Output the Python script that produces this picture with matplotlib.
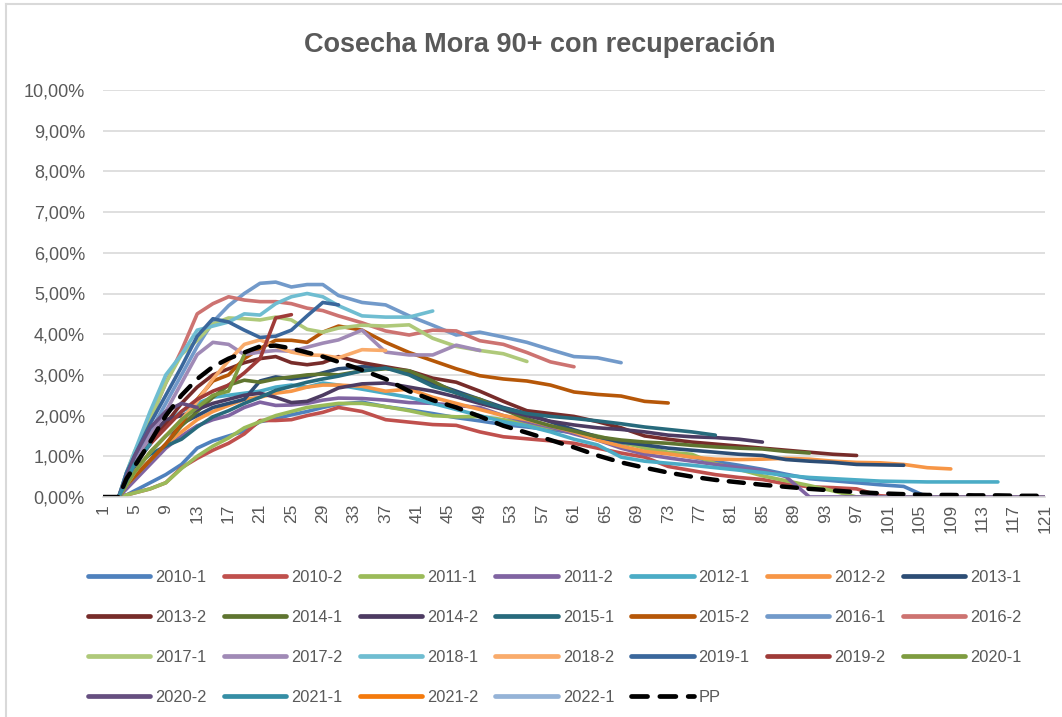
import matplotlib
matplotlib.use("Agg")
import matplotlib.pyplot as plt
from matplotlib.lines import Line2D
from matplotlib.ticker import FuncFormatter

plt.rcParams["font.family"] = ["Liberation Sans", "DejaVu Sans"]

MONTHS = [1, 3, 4, 5, 7, 9, 11, 13, 15, 17, 19, 21, 23, 25, 27, 29,
          31, 34, 37, 40, 43, 46, 49, 52, 55, 58, 61, 64, 67, 70, 73, 76,
          79, 82, 85, 88, 91, 94, 97, 100, 103, 106, 109, 112, 115, 118, 121]

# % of portfolio in 90+ delinquency, per cohort
s2010_1 = [0, 0, 0.05, 0.15, 0.35, 0.55, 0.8, 1.2, 1.38, 1.5, 1.62, 1.85, 1.92, 2.02, 2.1, 2.2,
           2.28, 2.33, 2.22, 2.14, 2.05, 1.95, 1.87, 1.78, 1.72, 1.65,
           1.58, 1.45, 1.32, 1.25, 1.08, 0.98, 0.87, 0.78, 0.68, 0.56,
           0.45, 0.4, 0.35, 0.3, 0.26, 0, 0, 0, 0, 0, 0]
s2010_2 = [0, 0, 0.05, 0.1, 0.2, 0.35, 0.72, 0.95, 1.15, 1.32, 1.55, 1.88, 1.88, 1.9, 2.0, 2.08,
           2.2, 2.1, 1.9, 1.84, 1.78, 1.76, 1.6, 1.48, 1.43, 1.38,
           1.32, 1.2, 1.08, 0.98, 0.75, 0.65, 0.55, 0.48, 0.43, 0.32,
           0.25, 0.23, 0.2, 0.03, 0, 0, 0, 0, 0, 0, 0]
s2011_1 = [0, 0, 0.05, 0.1, 0.2, 0.35, 0.7, 1.0, 1.25, 1.45, 1.7, 1.85, 2.0, 2.1, 2.2, 2.25,
           2.3, 2.3, 2.22, 2.12, 2.0, 1.97, 1.98, 1.9, 1.8, 1.7,
           1.6, 1.5, 1.35, 1.2, 1.1, 1.05, 0.82, 0.68, 0.52, 0.4,
           0.28, 0.15, 0, 0, 0, 0, 0, 0, 0, 0, 0]
s2011_2 = [0, 0, 0.2, 0.4, 0.8, 1.2, 1.5, 1.75, 1.9, 2.0, 2.2, 2.33, 2.25, 2.26, 2.3, 2.38,
           2.43, 2.42, 2.38, 2.32, 2.3, 2.25, 2.2, 2.0, 1.85, 1.72,
           1.55, 1.4, 1.2, 1.05, 0.96, 0.88, 0.8, 0.72, 0.66, 0.5,
           0, 0, 0, 0, 0, 0, 0, 0, 0, 0, 0]
s2012_1 = [0, 0, 0.5, 0.9, 1.4, 1.8, 2.1, 2.3, 2.45, 2.5, 2.55, 2.6, 2.7, 2.75, 2.7, 2.8,
           2.75, 2.65, 2.55, 2.45, 2.3, 2.15, 2.0, 1.85, 1.75, 1.6,
           1.42, 1.28, 0.98, 0.88, 0.83, 0.78, 0.72, 0.66, 0.6, 0.53,
           0.48, 0.45, 0.42, 0.39, 0.38, 0.37, 0.37, 0.37, 0.37]
s2012_2 = [0, 0, 0.3, 0.5, 0.9, 1.3, 1.6, 1.9, 2.1, 2.25, 2.4, 2.45, 2.55, 2.6, 2.7, 2.75,
           2.75, 2.72, 2.6, 2.65, 2.45, 2.3, 2.15, 2.0, 1.9, 1.75,
           1.6, 1.4, 1.25, 1.12, 1.06, 0.98, 0.93, 0.92, 0.93, 0.95,
           0.93, 0.88, 0.85, 0.84, 0.8, 0.72, 0.69]
s2013_1 = [0, 0, 0.3, 0.6, 1.1, 1.5, 1.8, 2.0, 2.2, 2.3, 2.4, 2.85, 2.95, 2.9, 2.95, 3.05,
           3.15, 3.2, 3.18, 3.05, 2.8, 2.6, 2.4, 2.2, 2.05, 1.85,
           1.65, 1.48, 1.35, 1.28, 1.2, 1.15, 1.1, 1.05, 1.02, 0.92,
           0.88, 0.85, 0.8, 0.79, 0.78]
s2013_2 = [0, 0, 0.4, 0.8, 1.3, 1.8, 2.3, 2.7, 3.0, 3.15, 3.3, 3.4, 3.45, 3.3, 3.25, 3.3,
           3.45, 3.3, 3.2, 3.1, 2.92, 2.82, 2.6, 2.35, 2.12, 2.05,
           1.98, 1.85, 1.7, 1.5, 1.42, 1.35, 1.3, 1.25, 1.2, 1.15,
           1.1, 1.05, 1.02]
s2014_1 = [0, 0, 0.3, 0.5, 0.9, 1.3, 1.75, 2.1, 2.45, 2.75, 2.87, 2.82, 2.9, 2.95, 3.0, 3.02,
           3.0, 3.1, 3.15, 3.1, 2.85, 2.55, 2.4, 2.15, 1.92, 1.75,
           1.62, 1.48, 1.4, 1.35, 1.32, 1.27, 1.23, 1.2, 1.18, 1.12,
           1.08]
s2014_2 = [0, 0, 0.5, 0.9, 1.5, 1.9, 2.0, 2.15, 2.3, 2.4, 2.5, 2.55, 2.45, 2.32, 2.35, 2.5,
           2.68, 2.78, 2.8, 2.7, 2.6, 2.46, 2.3, 2.15, 2.0, 1.86,
           1.77, 1.7, 1.66, 1.6, 1.52, 1.48, 1.46, 1.42, 1.35]
s2015_1 = [0, 0, 0.4, 0.7, 1.05, 1.25, 1.42, 1.72, 1.97, 2.12, 2.3, 2.45, 2.62, 2.72, 2.82, 2.9,
           2.97, 3.1, 3.17, 3.0, 2.72, 2.56, 2.35, 2.18, 2.05, 1.98,
           1.93, 1.87, 1.8, 1.72, 1.66, 1.6, 1.52]
s2015_2 = [0, 0, 0.3, 0.5, 0.9, 1.3, 1.8, 2.4, 2.85, 3.0, 3.4, 3.65, 3.85, 3.85, 3.8, 4.05,
           4.2, 4.1, 3.8, 3.55, 3.35, 3.15, 2.98, 2.9, 2.85, 2.75,
           2.58, 2.52, 2.48, 2.35, 2.31]
s2016_1 = [0, 0, 0.5, 0.9, 1.6, 2.3, 3.0, 3.7, 4.3, 4.7, 5.0, 5.25, 5.28, 5.16, 5.22, 5.22,
           4.95, 4.78, 4.72, 4.45, 4.22, 3.98, 4.05, 3.93, 3.8, 3.62,
           3.45, 3.42, 3.3]
s2016_2 = [0, 0, 0.5, 1.0, 1.9, 2.8, 3.6, 4.5, 4.75, 4.92, 4.84, 4.8, 4.8, 4.75, 4.64, 4.58,
           4.45, 4.28, 4.08, 3.98, 4.1, 4.08, 3.84, 3.75, 3.55, 3.32,
           3.2]
s2017_1 = [0, 0, 0.6, 1.1, 1.9, 2.8, 3.5, 3.85, 4.25, 4.4, 4.38, 4.35, 4.42, 4.35, 4.12, 4.05,
           4.15, 4.22, 4.2, 4.23, 3.9, 3.7, 3.6, 3.52, 3.33]
s2017_2 = [0, 0, 0.4, 0.8, 1.5, 2.1, 2.8, 3.5, 3.8, 3.75, 3.5, 3.56, 3.6, 3.58, 3.68, 3.78,
           3.86, 4.1, 3.56, 3.49, 3.49, 3.73, 3.6]
s2018_1 = [0, 0, 0.6, 1.1, 2.1, 3.0, 3.5, 4.1, 4.2, 4.3, 4.5, 4.47, 4.75, 4.92, 5.0, 4.92,
           4.7, 4.45, 4.42, 4.42, 4.57]
s2018_2 = [0, 0, 0.3, 0.6, 1.1, 1.5, 1.9, 2.35, 2.9, 3.35, 3.75, 3.86, 3.7, 3.56, 3.49, 3.48,
           3.42, 3.62, 3.6]
s2019_1 = [0, 0, 0.6, 1.0, 1.8, 2.5, 3.2, 3.95, 4.38, 4.3, 4.1, 3.92, 3.95, 4.1, 4.45, 4.78,
           4.72]
s2019_2 = [0, 0, 0.4, 0.8, 1.3, 1.7, 2.1, 2.4, 2.6, 2.75, 3.05, 3.4, 4.4, 4.48]
s2020_1 = [0, 0, 0.3, 0.6, 1.1, 1.5, 1.9, 2.2, 2.5, 2.6, 3.5]
s2020_2 = [0, 0, 0.5, 1.0, 1.7, 2.1, 2.3, 2.2]
s2021_1 = [0, 0, 0.4, 0.8, 1.3]
s2021_2 = [0, 0]
s2022_1 = [0]
pp = [0, 0, 0.45, 0.75, 1.35, 2.0, 2.5, 2.9, 3.2, 3.4, 3.55, 3.7, 3.72, 3.65, 3.55, 3.45,
      3.32, 3.12, 2.9, 2.6, 2.38, 2.2, 1.98, 1.75, 1.58, 1.4,
      1.22, 1.02, 0.85, 0.72, 0.6, 0.5, 0.42, 0.36, 0.3, 0.25,
      0.2, 0.16, 0.12, 0.09, 0.07, 0.05, 0.05, 0.04, 0.04, 0.03, 0.03]

LABELS = ["2010-1", "2010-2", "2011-1", "2011-2", "2012-1", "2012-2", "2013-1",
          "2013-2", "2014-1", "2014-2", "2015-1", "2015-2", "2016-1", "2016-2",
          "2017-1", "2017-2", "2018-1", "2018-2", "2019-1", "2019-2", "2020-1",
          "2020-2", "2021-1", "2021-2", "2022-1"]
VALUES = [s2010_1, s2010_2, s2011_1, s2011_2, s2012_1, s2012_2, s2013_1,
          s2013_2, s2014_1, s2014_2, s2015_1, s2015_2, s2016_1, s2016_2,
          s2017_1, s2017_2, s2018_1, s2018_2, s2019_1, s2019_2, s2020_1,
          s2020_2, s2021_1, s2021_2, s2022_1]
COLORS = ["#4F81BD", "#C0504D", "#9BBB59", "#8064A2", "#4BACC6", "#F79646", "#2C4D75",
          "#772C2A", "#5F7530", "#4D3B62", "#276A7C", "#B65708", "#729ACA", "#CD7371",
          "#AFC97A", "#A08AB6", "#6FBDD1", "#F9AB6B", "#3A679C", "#9F3B38", "#7E9C40",
          "#664F80", "#358EA5", "#F47A0C", "#95B3D7"]

TEXT = "#595959"
GRID = "#D9D9D9"
W, H = 1062, 717

fig = plt.figure(figsize=(W / 100, H / 100), dpi=100)
ax = fig.add_axes([103 / W, 1 - 497 / H, (1045 - 103) / W, (497 - 90) / H])

handles = []
for lab, vals, col in zip(LABELS, VALUES, COLORS):
    (ln,) = ax.plot(MONTHS[:len(vals)], vals, color=col, lw=2.6, label=lab,
                    solid_capstyle="round", solid_joinstyle="round")
    handles.append(ln)
(ln,) = ax.plot(MONTHS, pp, color="black", lw=3.2, dashes=(3.4, 2.6), label="PP",
                dash_capstyle="round")
handles.append(ln)

ax.set_xlim(1, 121)
ax.set_ylim(0, 10)
ax.set_yticks(range(0, 11))
ax.yaxis.set_major_formatter(FuncFormatter(lambda v, p: f"{v:.2f}%".replace(".", ",")))
ax.set_xticks(range(1, 122, 4))
ax.tick_params(axis="x", length=0, pad=5, labelrotation=90, labelsize=12.5, labelcolor=TEXT)
ax.tick_params(axis="y", length=0, pad=13, labelsize=13, labelcolor=TEXT)
ax.grid(axis="y", color=GRID, lw=1.2)
ax.set_axisbelow(True)
for side in ["top", "right", "left"]:
    ax.spines[side].set_visible(False)
ax.spines["bottom"].set_color(GRID)
ax.spines["bottom"].set_linewidth(1.2)

fig.text(540 / W, 1 - 45 / H, "Cosecha Mora 90+ con recuperación", ha="center", va="center",
         fontsize=19.5, fontweight="bold", color=TEXT)

# legend: Excel fills row by row, matplotlib column by column
ncol = 7
order = [r * ncol + c for c in range(ncol) for r in range(4) if r * ncol + c < len(handles)]
leg = fig.legend([handles[i] for i in order], [handles[i].get_label() for i in order],
                 loc="upper left", bbox_to_anchor=(88 / W, 1 - 570 / H), ncol=ncol,
                 frameon=False, fontsize=11.8, handlelength=3.8, handletextpad=0.3,
                 columnspacing=1.05, labelspacing=1.53, borderpad=0, borderaxespad=0)
for t in leg.get_texts():
    t.set_color(TEXT)
for h in leg.legend_handles:
    h.set_linewidth(3.4)

# chart border
fig.add_artist(Line2D([6 / W, 1], [1 - 4 / H, 1 - 4 / H], color=GRID, lw=1.5))
fig.add_artist(Line2D([6 / W, 6 / W], [0, 1 - 4 / H], color=GRID, lw=1.5))

fig.savefig("out.png", dpi=100)
